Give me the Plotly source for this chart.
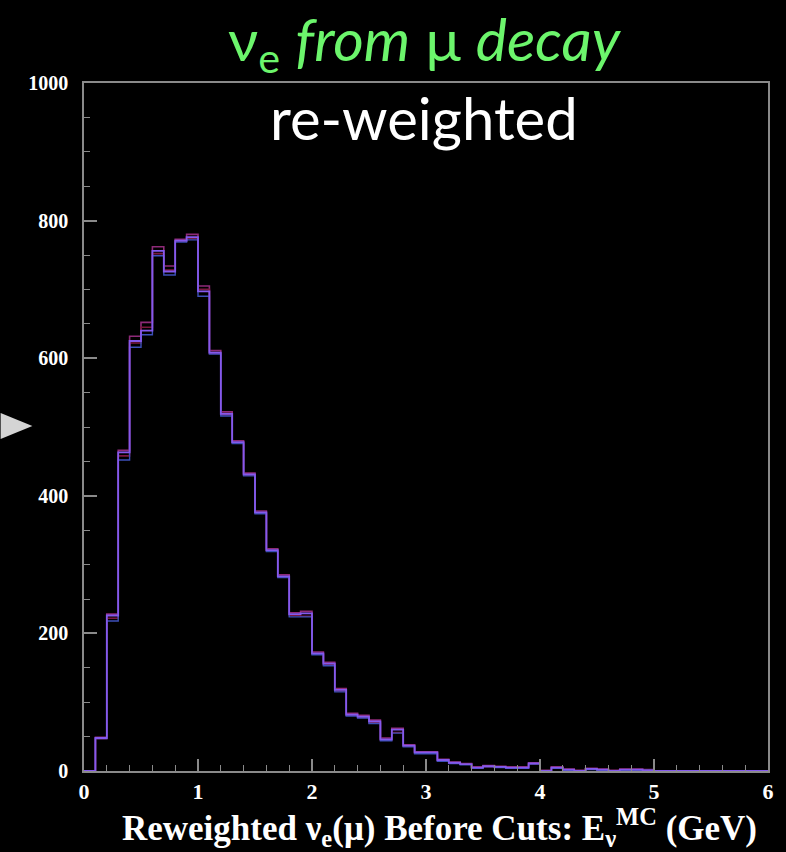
import plotly.graph_objects as go

# Bin edges: 0.0 .. 6.0 GeV in 0.1 GeV steps (60 bins)
bin_edges = [round(0.1 * i, 1) for i in range(61)]

# Nominal (purple) reweighted histogram
nominal = [0, 48, 226, 463, 625, 640, 756, 726, 771, 776,
           697, 608, 519, 478, 431, 376, 321, 283, 228, 229,
           171, 156, 118, 82, 79, 72, 46, 60, 37, 27,
           27, 16, 12, 10, 5, 7, 6, 5, 5, 11,
           0, 5, 2, 0, 3, 2, 0, 2, 2, 1,
           0, 0, 0, 0, 0, 0, 0, 0, 0, 0]

# Upper variation (dark magenta)
upper_var = [0, 49, 228, 466, 632, 652, 762, 734, 773, 780,
             705, 611, 522, 480, 433, 378, 323, 285, 230, 232,
             173, 158, 120, 84, 81, 74, 48, 62, 38, 28,
             28, 17, 13, 11, 6, 8, 7, 6, 6, 12,
             1, 6, 3, 1, 4, 3, 1, 3, 3, 2,
             0, 0, 0, 0, 0, 0, 0, 0, 0, 0]

# Middle variation (dark red)
mid_var = [0, 47, 222, 458, 622, 645, 752, 728, 770, 774,
           700, 607, 518, 477, 430, 375, 320, 282, 226, 225,
           170, 154, 116, 81, 78, 70, 45, 56, 36, 26,
           26, 15, 12, 10, 5, 6, 6, 5, 5, 10,
           0, 5, 2, 0, 3, 2, 0, 2, 2, 1,
           0, 0, 0, 0, 0, 0, 0, 0, 0, 0]

# Lower variation (blue)
lower_var = [0, 47, 218, 452, 616, 634, 749, 721, 769, 772,
             690, 606, 516, 476, 429, 374, 319, 281, 224, 224,
             169, 153, 115, 80, 77, 69, 44, 55, 35, 25,
             25, 14, 11, 9, 4, 6, 5, 4, 4, 10,
             0, 4, 1, 0, 2, 1, 0, 1, 1, 1,
             0, 0, 0, 0, 0, 0, 0, 0, 0, 0]

y_tick_vals = [0, 200, 400, 600, 800, 1000]
x_tick_vals = [0, 1, 2, 3, 4, 5, 6]

series = [
    (upper_var, "#8e2a78", 1.6),
    (mid_var, "#7a1840", 1.6),
    (lower_var, "#3c4fb8", 1.4),
    (nominal, "#8459ec", 1.8),
]

fig = go.Figure()
for vals, color, w in series:
    ys = list(vals) + [vals[-1]]
    fig.add_trace(go.Scatter(
        x=bin_edges, y=ys, mode="lines",
        line=dict(shape="hv", color=color, width=w),
        hoverinfo="skip", showlegend=False,
    ))

axis_common = dict(
    showline=True, linecolor="#8a8a8a", linewidth=1.5, mirror=True,
    showgrid=False, zeroline=False,
    ticks="inside", tickcolor="#8a8a8a", tickwidth=1.5,
)

L, R, T, B = 84, 13, 83, 81
W, H = 786, 852
PW, PH = W - L - R, H - T - B

fig.update_layout(
    width=W, height=H,
    paper_bgcolor="black", plot_bgcolor="black",
    margin=dict(l=L, r=R, t=T, b=B),
    showlegend=False,
    xaxis=dict(
        range=[0, 6], tickvals=x_tick_vals, ticklen=12,
        minor=dict(dtick=0.2, ticks="inside", ticklen=6, tickcolor="#8a8a8a", tickwidth=1.2),
        tickfont=dict(family="Liberation Serif", size=22, color="white", weight="bold"),
        **axis_common,
    ),
    yaxis=dict(
        range=[0, 1000], tickvals=y_tick_vals, ticklen=13,
        minor=dict(dtick=50, ticks="inside", ticklen=6, tickcolor="#8a8a8a", tickwidth=1.2),
        tickfont=dict(family="Liberation Serif", size=20, color="white", weight="bold"),
        ticklabelstandoff=10,
        **axis_common,
    ),
)


def px_x(p):
    return (p - L) / PW


def px_y(p):
    return (H - B - p) / PH


fig.add_annotation(
    xref="paper", yref="paper", x=px_x(427), y=px_y(42),
    xanchor="center", yanchor="middle", showarrow=False,
    text="ν<sub>e</sub> <i>from</i> μ <i>decay</i>",
    font=dict(family="Lato", size=59, color="#6cf56c"),
)
fig.add_annotation(
    xref="paper", yref="paper", x=px_x(426), y=px_y(118),
    xanchor="center", yanchor="middle", showarrow=False,
    text="re-weighted",
    font=dict(family="Lato", size=58, color="white"),
)
fig.add_annotation(
    xref="paper", yref="paper", x=px_x(442), y=px_y(827),
    xanchor="center", yanchor="middle", showarrow=False,
    text="Reweighted ν<sub>e</sub>(μ) Before Cuts: E<sub>ν</sub><sup>MC</sup> (GeV)",
    font=dict(family="Liberation Serif", size=35, color="white", weight="bold"),
)

# Gray pointer triangle at the left edge
fig.add_shape(
    type="path", xref="paper", yref="paper",
    path=f"M {px_x(0)} {px_y(413)} L {px_x(32)} {px_y(426)} L {px_x(0)} {px_y(439)} Z",
    fillcolor="#d4d4d4", line=dict(width=0),
)

fig.write_html(
    "out.html",
    config={"displayModeBar": False},
    post_script="document.body.style.margin='0';document.body.style.background='black';",
)
